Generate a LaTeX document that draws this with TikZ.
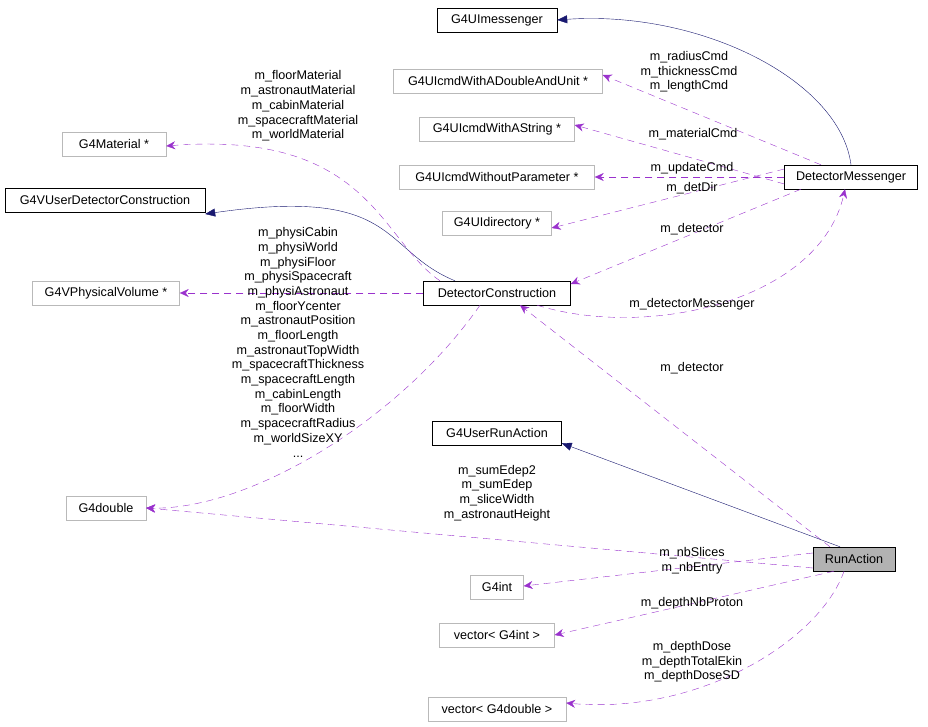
\documentclass[tikz,border=0pt]{standalone}
\usepackage{fontspec}
\setmainfont{Liberation Sans}
\usetikzlibrary{arrows.meta}
\definecolor{usecol}{HTML}{9A32CD}
\definecolor{inhcol}{HTML}{191970}
\begin{document}
\begin{tikzpicture}[x=1pt,y=-1pt,
    font=\fontsize{12.6}{14.7}\selectfont,
    cls/.style={rectangle, draw=black, inner sep=0pt, minimum height=24pt},
    ext/.style={cls, draw=gray!55},
    use/.style={dash pattern=on 7pt off 5pt, draw=usecol, -{Stealth[length=9pt,width=8pt,fill=usecol]}},
    inh/.style={draw=inhcol, -{Triangle[length=10pt,width=8pt,fill=inhcol]}},
    lbl/.style={align=center, inner sep=0pt}
    ]
    \useasboundingbox (0,0) rectangle (928,727);
    % classes
    \node[cls, minimum width=120pt] (uimess) at (497,20) {G4UImessenger};
    \node[ext, minimum width=209pt] (dblunit) at (498,81) {G4UIcmdWithADoubleAndUnit *};
    \node[ext, minimum width=155pt] (astring) at (497,129) {G4UIcmdWithAString *};
    \node[ext, minimum width=195pt] (noparam) at (497,177) {G4UIcmdWithoutParameter *};
    \node[ext, minimum width=109pt] (uidir) at (497,223) {G4UIdirectory *};
    \node[cls, minimum width=133pt] (detmess) at (851,177) {DetectorMessenger};
    \node[ext, minimum width=104pt] (mat) at (114,144) {G4Material *};
    \node[cls, minimum width=200pt] (userdet) at (105,200) {G4VUserDetectorConstruction};
    \node[ext, minimum width=147pt] (physvol) at (106,293) {G4VPhysicalVolume *};
    \node[cls, minimum width=147pt] (detcon) at (497,293) {DetectorConstruction};
    \node[cls, minimum width=129pt] (userrun) at (497,433) {G4UserRunAction};
    \node[ext, minimum width=80pt] (dbl) at (106,508) {G4double};
    \node[cls, minimum width=82pt, fill=gray!60] (runact) at (854,559) {RunAction};
    \node[ext, minimum width=53pt] (int) at (497,587) {G4int};
    \node[ext, minimum width=115pt] (vecint) at (497,635) {vector< G4int >};
    \node[ext, minimum width=138pt] (vecdbl) at (497,709) {vector< G4double >};
    % DetectorMessenger
    \draw[inh] (detmess.north) .. controls (840,80) and (700,10) .. (uimess.east);
    \draw[use] ([xshift=-30pt]detmess.north) -- ([yshift=6pt]dblunit.east);
    \draw[use] ([yshift=-7pt]detmess.west) -- ([yshift=4pt]astring.east);
    \draw[use] (detmess.west) -- (noparam.east);
    \draw[use] ([yshift=8pt]detmess.west) -- ([yshift=-5pt]uidir.east);
    \draw[use] ([xshift=-50pt]detmess.south) -- ([yshift=9pt]detcon.east);
    \node[lbl] (l1) at (689,72) {m\_radiusCmd\\m\_thicknessCmd\\m\_lengthCmd};
    \node[lbl] (l2) at (693,134) {m\_materialCmd};
    \node[lbl] (l3) at (692,168) {m\_updateCmd};
    \node[lbl] (l4) at (692,188) {m\_detDir};
    \node[lbl] (l5) at (692,229) {m\_detector};
    % DetectorConstruction
    \draw[use] ([xshift=40pt]detcon.south) .. controls (650,340) and (820,300) .. ([xshift=-6pt]detmess.south);
    \draw[inh] ([xshift=-42pt]detcon.north) .. controls (380,250) and (400,186) .. ([yshift=-14pt]userdet.east);
    \draw[use] ([xshift=-57pt]detcon.north) .. controls (380,240) and (370,130) .. ([yshift=-2pt]mat.east);
    \draw[use] (detcon.west) -- (physvol.east);
    \draw[use] ([xshift=-17pt]detcon.south) .. controls (400,420) and (250,510) .. (dbl.east);
    \node[lbl] (l6) at (692,304) {m\_detectorMessenger};
    \node[lbl] (l7) at (298,106) {m\_floorMaterial\\m\_astronautMaterial\\m\_cabinMaterial\\m\_spacecraftMaterial\\m\_worldMaterial};
    \node[lbl] (l8) at (298,263) {m\_physiCabin\\m\_physiWorld\\m\_physiFloor\\m\_physiSpacecraft\\m\_physiAstronaut};
    \node[lbl] (l9) at (298,379) {m\_floorYcenter\\m\_astronautPosition\\m\_floorLength\\m\_astronautTopWidth\\m\_spacecraftThickness\\m\_spacecraftLength\\m\_cabinLength\\m\_floorWidth\\m\_spacecraftRadius\\m\_worldSizeXY\\...};
    % RunAction
    \draw[use] ([xshift=-24pt]runact.north) -- ([xshift=23pt]detcon.south);
    \draw[inh] ([xshift=-14pt]runact.north) -- ([yshift=2pt]userrun.south east);
    \draw[use] ([yshift=-9pt]runact.west) -- (dbl.east);
    \draw[use] ([yshift=6pt]runact.west) -- ([yshift=1pt]int.east);
    \draw[use] ([xshift=-20pt]runact.south) -- (vecint.east);
    \draw[use] ([xshift=-10pt]runact.south) .. controls (820,640) and (700,715) .. ([yshift=6pt]vecdbl.east);
    \node[lbl] (l10) at (692,368) {m\_detector};
    \node[lbl] (l11) at (497,493) {m\_sumEdep2\\m\_sumEdep\\m\_sliceWidth\\m\_astronautHeight};
    \node[lbl] (l12) at (692,561) {m\_nbSlices\\m\_nbEntry};
    \node[lbl] (l13) at (692,603) {m\_depthNbProton};
    \node[lbl] (l14) at (692,662) {m\_depthDose\\m\_depthTotalEkin\\m\_depthDoseSD};
\end{tikzpicture}
\end{document}
